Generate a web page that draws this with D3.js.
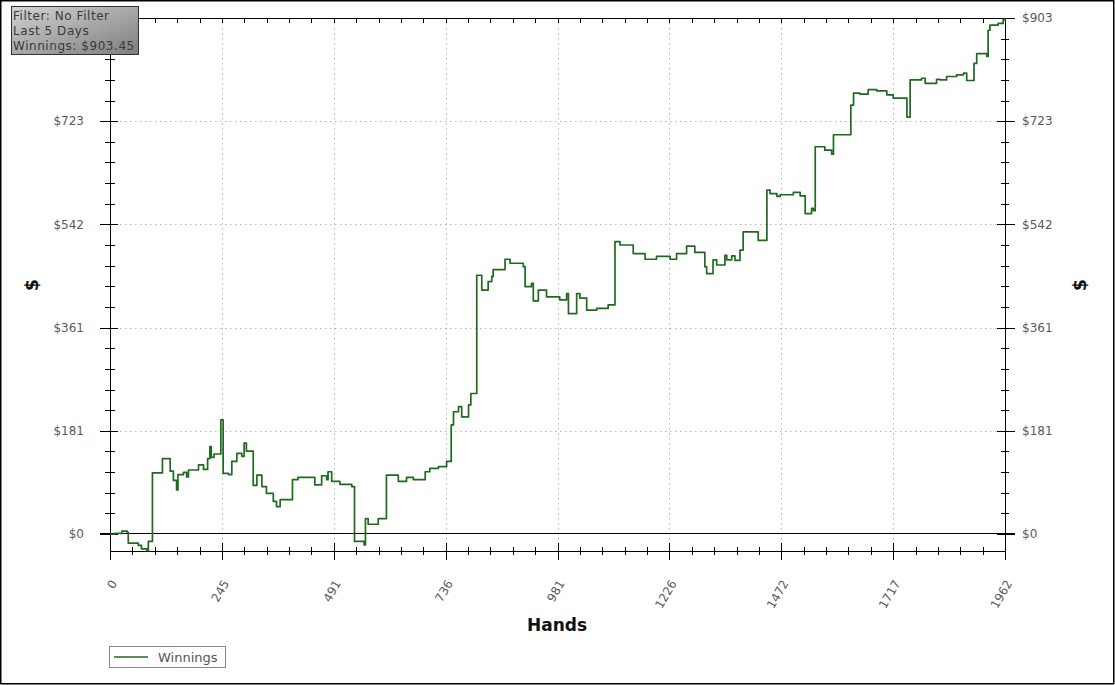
<!DOCTYPE html>
<html>
<head>
<meta charset="utf-8">
<script src="https://cdn.jsdelivr.net/npm/d3@7"></script>
<style>
  html, body { margin: 0; padding: 0; background: #fff; }
  svg { display: block; font-family: "DejaVu Sans", Verdana, sans-serif; }
</style>
</head>
<body>
<svg id="chart" width="1115" height="685"></svg>
<script>
// ---- data ----
const hands = [0, 11, 26, 38, 40, 62, 69, 81, 84, 93, 115, 128, 132, 139, 146, 149, 161, 168, 172, 194, 205, 214, 219, 222, 228, 243, 248, 260, 267, 278, 289, 294, 299, 314, 322, 333, 343, 358, 365, 373, 400, 412, 449, 464, 475, 478, 486, 504, 530, 536, 557, 560, 566, 588, 606, 632,
  650, 665, 691, 701, 720, 738, 748, 753, 764, 771, 786, 791, 804, 815, 829, 837, 840, 866, 877, 906, 910, 924, 928, 939, 957, 986, 1001, 1005, 1023, 1030, 1045, 1067, 1092, 1107, 1118, 1147, 1173, 1198, 1228, 1242, 1264, 1282, 1304, 1308, 1322, 1330, 1348, 1352, 1363, 1370, 1381, 1388, 1421,
  1440, 1447, 1462, 1469, 1498, 1513, 1524, 1538, 1542, 1546, 1567, 1582, 1586, 1624, 1630, 1644, 1662, 1681, 1703, 1717, 1747, 1754, 1779, 1787, 1812, 1820, 1834, 1856, 1871, 1878, 1894, 1900, 1922, 1925, 1929, 1947, 1958, 1962];
const winnings = [0, 1, 5, 3, -16, -20, -26, -29, -13, 107, 132, 132, 110, 94, 77, 104, 108, 100, 112, 121, 113, 132, 153, 134, 140, 200, 106, 104, 127, 141, 136, 159, 145, 85, 103, 83, 71, 57, 48, 60, 95, 99, 86, 102, 95, 109, 92, 87, 83, -13, -19, 27, 17, 27, 103, 92,
  99, 95, 109, 115, 118, 127, 191, 214, 223, 205, 226, 246, 453, 427, 442, 451, 463, 481, 474, 468, 433, 439, 408, 427, 415, 410, 421, 386, 421, 413, 392, 395, 401, 512, 506, 491, 481, 486, 481, 491, 504, 493, 468, 456, 480, 471, 488, 480, 487, 479, 497, 529, 514,
  602, 596, 591, 594, 598, 592, 561, 570, 566, 678, 672, 665, 699, 751, 772, 770, 778, 776, 769, 763, 730, 795, 798, 789, 796, 795, 801, 804, 807, 794, 824, 841, 836, 882, 891, 894, 900, 903.45];
const xTickLabels = ["0", "245", "491", "736", "981", "1226", "1472", "1717", "1962"];
const yTickLabels = ["$0", "$181", "$361", "$542", "$723", "$903"];
const infoLines = ["Filter: No Filter", "Last 5 Days", "Winnings: $903.45"];
const seriesName = "Winnings";
const xMax = 1962;
const yMax = 903.45;
const yMin = -29.8;

// ---- layout ----
const L = 110, R = 1005, T = 18, B = 551;
const svg = d3.select("#chart");
const x = d3.scaleLinear().domain([0, xMax]).range([L, R]);
const y = d3.scaleLinear().domain([yMin, yMax]).range([B, T]);

svg.append("rect").attr("x", 0).attr("y", 0).attr("width", 1115).attr("height", 685).attr("fill", "#fff");
svg.append("rect").attr("x", 0.75).attr("y", 0.75).attr("width", 1113).attr("height", 683)
  .attr("fill", "none").attr("stroke", "#000").attr("stroke-width", 1.5);

const xMajor = d3.range(xTickLabels.length).map(i => i * xMax / (xTickLabels.length - 1));
const yMajor = d3.range(yTickLabels.length).map(i => i * yMax / (yTickLabels.length - 1));
const xMinor = d3.range(41).map(i => i * xMax / 40);
const yMinor = d3.range(26).map(i => i * yMax / 25);

// grid
const grid = svg.append("g").attr("stroke", "#b4b4b4").attr("stroke-width", 1).attr("stroke-dasharray", "1.5,3.5");
xMajor.slice(1, -1).forEach(v => grid.append("line").attr("x1", Math.round(x(v)) + 0.5).attr("x2", Math.round(x(v)) + 0.5).attr("y1", T).attr("y2", B));
yMajor.slice(1, -1).forEach(v => grid.append("line").attr("y1", Math.round(y(v)) + 0.5).attr("y2", Math.round(y(v)) + 0.5).attr("x1", L).attr("x2", R));

// axes frame lines
const ax = svg.append("g").attr("stroke", "#000").attr("stroke-width", 1).attr("shape-rendering", "crispEdges");
ax.append("line").attr("x1", L).attr("x2", R).attr("y1", T).attr("y2", T);
ax.append("line").attr("x1", L).attr("x2", R).attr("y1", B).attr("y2", B);
ax.append("line").attr("x1", L).attr("x2", L).attr("y1", T).attr("y2", B + 9);
ax.append("line").attr("x1", R).attr("x2", R).attr("y1", T).attr("y2", B + 9);
// zero line
ax.append("line").attr("x1", L - 10).attr("x2", R + 10).attr("y1", y(0)).attr("y2", y(0));

// minor ticks
xMinor.forEach(v => {
  const px = Math.round(x(v));
  ax.append("line").attr("x1", px).attr("x2", px).attr("y1", B - 4).attr("y2", B + 4);
  ax.append("line").attr("x1", px).attr("x2", px).attr("y1", T).attr("y2", T + 5);
});
yMinor.forEach(v => {
  const py = Math.round(y(v));
  ax.append("line").attr("x1", L - 5).attr("x2", L + 5).attr("y1", py).attr("y2", py);
  ax.append("line").attr("x1", R - 4).attr("x2", R + 4).attr("y1", py).attr("y2", py);
});
// major ticks
xMajor.forEach(v => {
  const px = Math.round(x(v));
  ax.append("line").attr("x1", px).attr("x2", px).attr("y1", B - 8).attr("y2", B + 9);
});
yMajor.forEach(v => {
  const py = Math.round(y(v));
  ax.append("line").attr("x1", L - 10).attr("x2", L + 8).attr("y1", py).attr("y2", py);
  ax.append("line").attr("x1", R - 8).attr("x2", R + 10).attr("y1", py).attr("y2", py);
});

// tick labels (the left top label sits under the info box in the reference, so it is not drawn)
const lab = svg.append("g").attr("fill", "#5a5a5a").attr("font-size", 12);
yMajor.forEach((v, i) => {
  if (i < yMajor.length - 1) {
    lab.append("text").attr("x", L - 26).attr("y", y(v)).attr("dy", "0.35em").attr("text-anchor", "end").text(yTickLabels[i]);
  }
  lab.append("text").attr("x", R + 17).attr("y", y(v)).attr("dy", "0.35em").attr("text-anchor", "start").text(yTickLabels[i]);
});
xMajor.forEach((v, i) => {
  const px = x(v) + 4, py = 581;
  lab.append("text").attr("transform", `translate(${px},${py}) rotate(-60)`)
    .attr("text-anchor", "end").attr("dy", "0.35em").text(xTickLabels[i]);
});

// axis titles
svg.append("text").attr("transform", "translate(38,285) rotate(-90)").attr("text-anchor", "middle")
  .attr("font-size", 17).attr("font-weight", "bold").attr("fill", "#111").text("$");
svg.append("text").attr("transform", "translate(1086,285) rotate(-90)").attr("text-anchor", "middle")
  .attr("font-size", 17).attr("font-weight", "bold").attr("fill", "#111").text("$");
svg.append("text").attr("x", 557).attr("y", 631).attr("text-anchor", "middle")
  .attr("font-size", 17).attr("font-weight", "bold").attr("fill", "#111").text("Hands");

// series line
const pts = hands.map((h, i) => [h, winnings[i]]);
const line = d3.line().x(d => x(d[0])).y(d => y(d[1])).curve(d3.curveStepAfter);
svg.append("path").datum(pts).attr("d", line).attr("fill", "none")
  .attr("stroke", "#1f6a1f").attr("stroke-width", 1.7).attr("stroke-linejoin", "round");

// info box
const defs = svg.append("defs");
const grad = defs.append("linearGradient").attr("id", "infoGrad").attr("x1", 0).attr("y1", 0).attr("x2", 1).attr("y2", 1);
grad.append("stop").attr("offset", "0%").attr("stop-color", "#d2d2d2");
grad.append("stop").attr("offset", "100%").attr("stop-color", "#7e7e7e");
svg.append("rect").attr("x", 11.5).attr("y", 6.5).attr("width", 127).attr("height", 48)
  .attr("fill", "url(#infoGrad)").attr("stroke", "#333").attr("stroke-width", 1);
infoLines.forEach((t, i) => {
  svg.append("text").attr("x", 13).attr("y", 19.5 + i * 15).attr("font-size", 12)
    .attr("letter-spacing", 0.55).attr("fill", "#3a3a3a").text(t);
});

// legend
svg.append("rect").attr("x", 109.5).attr("y", 646.5).attr("width", 116).attr("height", 21)
  .attr("fill", "#fff").attr("stroke", "#888").attr("stroke-width", 1);
svg.append("line").attr("x1", 114).attr("x2", 148).attr("y1", 657).attr("y2", 657)
  .attr("stroke", "#1f6a1f").attr("stroke-width", 1.7);
svg.append("text").attr("x", 158).attr("y", 662).attr("font-size", 13).attr("fill", "#555").text(seriesName);
</script>
</body>
</html>
